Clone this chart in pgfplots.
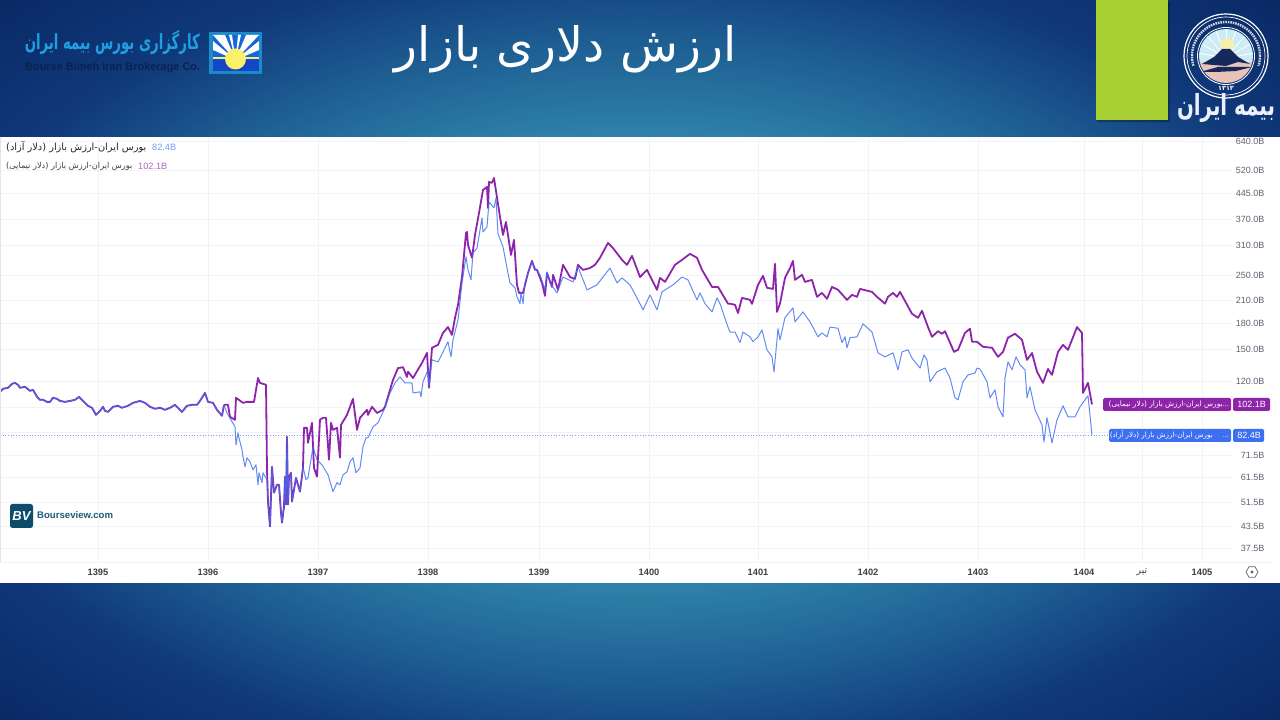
\documentclass[border=0pt]{standalone}
\usepackage{fontspec}
\usepackage{pgfplots}
\pgfplotsset{compat=1.18}
\usepackage{pgfplotstable}
\usetikzlibrary{shapes.geometric}
\setmainfont{Liberation Sans}
\newfontfamily\arabicfont[Script=Arabic]{DejaVu Sans}
\TeXXeTstate=1
\definecolor{purp}{HTML}{8E24AA}
\definecolor{blu}{HTML}{3D6FF0}
\definecolor{dotc}{HTML}{7F97F0}
\definecolor{gridc}{HTML}{F2F3F9}
\definecolor{tickc}{HTML}{5C6270}
\definecolor{c0}{HTML}{3288B0}
\definecolor{c1}{HTML}{2D80A8}
\definecolor{c2}{HTML}{1E5F93}
\definecolor{c3}{HTML}{10397A}
\definecolor{c4}{HTML}{0A2A66}
\definecolor{bvc}{HTML}{0D4C6B}
\definecolor{lgA}{HTML}{1C8AC9}
\definecolor{lgB}{HTML}{1666D8}
\definecolor{lgC}{HTML}{1446C8}
\definecolor{lgD}{HTML}{F6EC78}
\definecolor{lgE}{HTML}{FBF06A}
\definecolor{grn}{HTML}{A9D133}
\definecolor{skyc}{HTML}{CDEBF4}
\definecolor{pnk}{HTML}{E8C4B8}
\definecolor{sunc}{HTML}{F5F0B0}
\definecolor{mtn}{HTML}{16295C}
\pgfdeclareradialshading{bgshade}{\pgfpoint{0bp}{0bp}}{
 color(0bp)=(c0); color(16bp)=(c1); color(22bp)=(c2); color(28bp)=(c3); color(35bp)=(c4); color(50bp)=(c4)}

\pgfplotstableread{
x v
0 111.4
3 113.8
8 114.6
12 117.8
15 118.6
18 117.0
20 114.6
25 115.4
30 112.2
33 113.0
37 107.6
40 105.4
43 105.4
47 103.9
50 103.9
53 106.9
57 106.1
60 104.6
65 103.9
70 104.6
75 105.4
79 107.6
83 104.6
88 101.1
92 99.7
96 94.9
100 97.6
103 100.4
105 97.6
108 96.9
113 100.4
118 101.1
122 99.7
128 101.1
133 103.2
140 104.6
145 103.2
150 100.4
155 99.0
160 99.7
165 98.3
170 99.7
175 101.8
178 99.7
182 96.9
187 101.1
192 101.8
197 101.8
200 104.6
205 110.6
208 103.9
213 103.2
217 98.3
222 94.3
224 101.8
}\shared

\pgfplotstableread{
x v
224 101.8
227 96.2
235 87.3
236 77.0
238 83.7
239 80.9
242 74.4
243 70.9
245 66.1
247 70.4
250 68.4
253 64.7
256 67.0
258 58.3
259 63.4
262 59.2
263 63.4
267 60.4
268 51.5
270 43.6
272 66.1
274 55.2
277 58.3
279 58.3
281 48.0
282 44.8
284 50.1
285 61.7
286 50.8
287 81.4
288 50.8
289 61.7
291 63.4
292 51.9
296 61.2
300 55.6
303 66.1
306 60.4
308 61.2
313 76.0
317 69.4
322 67.0
328 62.5
333 55.6
337 59.2
340 58.3
343 62.5
347 63.8
350 68.4
353 70.4
356 63.4
360 65.6
363 76.0
366 80.9
368 80.9
373 87.3
378 89.8
385 99.7
390 110.6
395 118.6
400 123.7
405 118.6
412 118.6
413 110.6
420 111.4
421 107.6
423 119.5
428 129.9
429 115.4
432 139.2
438 137.3
443 147.2
448 157.9
451 142.2
453 160.1
458 184
462 237.9
466 285.4
468 260.7
471 243.1
473 293.5
477 303.4
482 374.5
483 339.6
487 351.6
489 418.5
494 401.5
496 430.5
498 335
503 306
508 254.9
510 238
515 230
517 216
520 206
521 223.6
523 206
525 238
528 255
532 275.6
535 264
540 251.8
545 226.8
547 257
550 238
557 222
563 248
573 239.7
578 266
587 226.8
597 234.8
603 248
610 264
617 238
622 246.5
630 234.8
638 211.5
643 197.3
650 219
657 197.3
662 223.6
673 234.8
682 248
688 243.1
697 211.5
700 222
705 206
712 194.5
717 214.5
720 206
728 175
730 169
735 169
740 157
743 169
750 163.5
753 158
758 163.5
762 171.6
767 149.3
772 142.2
774 128
778 173
780 160.1
785 187
793 200
795 181.5
803 194.5
810 181.5
818 163.5
822 168
827 163.5
830 175
838 173.5
842 157
845 163.5
847 151.5
850 162.5
857 163.5
863 179
872 169
878 146.2
885 142.2
893 146.2
898 129.9
902 147.2
908 149.3
912 141
920 131.5
924 144.2
927 139.2
930 119.5
937 128.2
945 131.5
950 122.7
955 106.9
958 105.4
963 119.5
968 125.4
975 127
977 131.5
980 130.7
987 119.5
990 106.9
995 113
998 100.4
1003 93.6
1005 122.7
1008 137.3
1012 129.9
1016 142.2
1020 134.5
1025 129.9
1027 106.9
1030 115.4
1035 98.3
1042 88.5
1044 78.7
1047 93
1052 78.1
1057 91.7
1063 101.1
1068 93.6
1075 93.6
1080 100.4
1088 108.4
1092 82.4
}\free

\pgfplotstableread{
x v
224 101.8
228 101.8
230 93.6
235 91.7
236 106.9
243 103.2
247 103.9
254 103.9
258 122.7
260 118.6
266 117.0
267 64.7
268 51.9
270 43.6
272 66.1
274 55.2
277 58.3
279 58.3
281 48.0
282 44.8
284 50.1
285 61.7
286 50.8
287 81.4
288 50.8
289 61.7
291 63.4
292 51.9
296 61.2
300 55.6
303 65.6
304 86.7
307 86.7
308 78.1
312 89.8
314 65.6
317 61.7
320 91.7
323 93
326 93
329 69.4
331 89.8
333 85.5
337 86.7
340 70.4
341 88.5
347 94.9
353 106.1
357 85.5
360 93
367 98.3
368 94.9
372 100.4
377 96.2
383 98.3
385 100.4
393 121.1
398 131.5
403 132.3
407 123.6
408 128.2
413 122.7
422 136.4
427 146.2
429 114.6
432 151.5
438 154.6
443 168
448 175
452 165.7
455 186.6
458 204.3
462 248
466 337
467 339.6
468 310.3
472 283.5
475 332.6
479 387.7
483 455
487 464.7
488 401.5
489 481
492 478
494 494.5
500 377
503 332.6
506 364
511 289.4
514 321.2
517 234.8
519 222
523 222
528 255
532 277.5
535 260.7
537 260.7
542 238
545 217.5
547 255
552 231.5
553 251.8
558 226.8
563 270
570 248
575 244.8
578 270
583 260.7
590 264
595 270
600 283.5
608 314.5
613 303.4
622 279.5
627 270
632 287.4
640 248
647 260.7
657 226.8
660 246.5
665 239.7
675 270
682 279.5
690 291.5
697 283.5
702 260.7
712 231.5
718 231.5
728 206
730 206
735 204.3
738 193
742 214.5
750 211.5
752 205.7
758 234.8
763 250
767 230
773 228.3
775 272
777 194.5
780 206
785 246.5
790 264
793 277.5
795 243.1
802 251.8
805 239.7
812 243.1
817 216
822 222
827 213
832 231.5
838 226.8
847 211.5
852 219
857 216
860 228.3
872 223.6
877 216
885 206
888 216
893 222
897 216
900 223.6
912 192
918 186.6
922 196
928 175
932 163.5
938 170
942 167
945 170
954 147.2
958 149.3
965 168
970 173
972 158
977 158
983 152.5
992 151.5
998 142.2
1003 147.2
1008 162.5
1015 167
1022 160.1
1027 139.2
1032 146
1037 128.2
1043 118.6
1048 130.7
1052 125.4
1058 147.2
1063 154.6
1068 149.3
1077 175
1082 168
1083 110.6
1088 118.6
1092 102.1
}\nima

\begin{document}
\begin{tikzpicture}
\useasboundingbox (0pt,0pt) rectangle (1280pt,720pt);
\begin{scope}[x=1pt,y=-1pt,shift={(0pt,720pt)}]
  \path[shading=bgshade] (0,0) rectangle (1280,720);
  \fill[white] (0,137) rectangle (1280,583);
\end{scope}

\begin{axis}[
  at={(0pt,158pt)}, anchor=south west,
  scale only axis, width=1232pt, height=425pt,
  ymode=log, log basis y=10,
  xmin=0, xmax=1232, ymin=34.05, ymax=658,
  axis line style={draw=none},
  tick style={draw=none},
  major tick length=0pt,
  grid=major,
  major grid style={gridc, line width=0.8pt},
  xtick={98,208,318,428,539,649,758,868,978,1084,1142,1202},
  xticklabels={\textbf{1395},\textbf{1396},\textbf{1397},\textbf{1398},\textbf{1399},\textbf{1400},\textbf{1401},\textbf{1402},\textbf{1403},\textbf{1404},{\arabicfont\beginR تیر\endR},\textbf{1405}},
  xticklabel style={font=\fontsize{9.3}{10}\selectfont, text=black!75, yshift=-3pt},
  ytick={640,520,445,370,310,250,210,180,150,120,100,84,71.5,61.5,51.5,43.5,37.5},
  yticklabels={640.0B,520.0B,445.0B,370.0B,310.0B,250.0B,210.0B,180.0B,150.0B,120.0B,{},{},71.5B,61.5B,51.5B,43.5B,37.5B},
  yticklabel pos=right,
  yticklabel style={font=\fontsize{9}{10}\selectfont, text=tickc, anchor=east, xshift=36pt},
  clip=true,
]
\addplot[dotc, dotted, line width=0.7pt, forget plot] coordinates {(0,82.4) (1109,82.4)};
\addplot[purp, line width=1.8pt, line join=round] table[x=x,y=v] {\shared};
\addplot[purp, line width=1.8pt, line join=round] table[x=x,y=v] {\nima};
\addplot[blu, opacity=0.8, line width=1pt, line join=round] table[x=x,y=v] {\shared};
\addplot[blu, opacity=0.8, line width=1pt, line join=round] table[x=x,y=v] {\free};
\end{axis}

\begin{scope}[x=1pt,y=-1pt,shift={(0pt,720pt)}]
  % separator under the plot
  \draw[gridc!80!black!20, line width=0.8pt] (0,562) -- (1273,562);
  \draw[gridc!70!black!30, line width=0.6pt] (0,137) -- (0,562);
  % settings icon
  \node[draw=tickc, regular polygon, regular polygon sides=6, minimum size=12pt, inner sep=0pt, line width=0.7pt] at (1252,572) {};
  \fill[tickc] (1252,572) circle (1.6pt);
  % price tags
  \fill[purp, rounded corners=1.5pt] (1103,398) rectangle (1231,411);
  \fill[purp, rounded corners=1.5pt] (1233,398) rectangle (1270,411);
  \fill[blu, rounded corners=1.5pt] (1109,429) rectangle (1231,442);
  \fill[blu, rounded corners=1.5pt] (1233,429) rectangle (1264,442);
  \node[anchor=east, text=white, inner sep=0pt, font=\fontsize{7.4}{8}\selectfont] at (1229,404.5) {{\arabicfont\beginR بورس ایران-ارزش بازار (دلار نیمایی)\endR}...};
  \node[anchor=east, text=white, inner sep=0pt, font=\fontsize{7.2}{8}\selectfont] at (1229,435.5) {{\arabicfont\beginR بورس ایران-ارزش بازار (دلار آزاد)\endR}\hspace{10pt}...};
  \node[text=white, inner sep=0pt, font=\fontsize{9}{10}\selectfont] at (1251.5,404.5) {102.1B};
  \node[text=white, inner sep=0pt, font=\fontsize{9}{10}\selectfont] at (1249,435.5) {82.4B};
  % legend
  \node[anchor=west, inner sep=0pt, text=black!85, font=\fontsize{9.8}{10}\selectfont] at (6,147) {\arabicfont\beginR بورس ایران-ارزش بازار (دلار آزاد)\endR};
  \node[anchor=west, inner sep=0pt, text=blu!70!white, font=\fontsize{9.2}{10}\selectfont] at (152,147) {82.4B};
  \node[anchor=west, inner sep=0pt, text=black!75, font=\fontsize{8.2}{9}\selectfont] at (6,166) {\arabicfont\beginR بورس ایران-ارزش بازار (دلار نیمایی)\endR};
  \node[anchor=west, inner sep=0pt, text=purp!70!white, font=\fontsize{9.2}{10}\selectfont] at (138,166) {102.1B};
  % Bourseview badge
  \fill[bvc, rounded corners=2.5pt] (10,504) rectangle (33,528);
  \node[text=white, inner sep=0pt, font=\fontsize{13}{14}\selectfont\bfseries\itshape] at (21.5,516) {BV};
  \node[anchor=west, inner sep=0pt, text={rgb,255:red,31;green,90;blue,120}, font=\fontsize{9.6}{10}\selectfont\bfseries] at (37,515) {Bourseview.com};
  % title
  \node[text=white, inner sep=0pt] at (566,49) {\resizebox{342pt}{!}{\arabicfont\beginR ارزش دلاری بازار\endR}};
  % left logo
  \node[anchor=east, inner sep=0pt, text={rgb,255:red,31;green,159;blue,224}] at (200,43) {\resizebox{175pt}{19pt}{\arabicfont\bfseries\beginR کارگزاری بورس بیمه ایران\endR}};
  \node[anchor=west, inner sep=0pt, text={rgb,255:red,10;green,34;blue,80}] at (25,67.5) {\resizebox{175pt}{8pt}{\bfseries Bourse Bimeh Iran Brokerage Co.}};
  \fill[lgA] (209,32) rectangle (262,74);
  \fill[lgB] (213,35) rectangle (259,58);
  \fill[lgC] (213,58) rectangle (259,71);
  \begin{scope}
    \clip (213,35) rectangle (259,56.5);
    \foreach \a/\b in {213/225,229/232,238/241,246/259}{\fill[white] (\a,35) -- (\b,35) -- (235.5,60) -- cycle;}
    \fill[white] (213,41) -- (213,50) -- (235.5,60) -- cycle;
    \fill[white] (259,41) -- (259,50) -- (235.5,60) -- cycle;
  \end{scope}
  \fill[lgD] (213,57) rectangle (259,59);
  \fill[lgE] (235.5,59) circle (10.5pt);
  % green box
  \fill[black, opacity=0.25] (1097,2) rectangle (1170,122);
  \fill[grn] (1096,0) rectangle (1168,120);
  % right logo
  \draw[white, line width=1.2pt] (1226,56) circle (42pt);
  \draw[white, line width=0.7pt] (1226,56) circle (39pt);
  \draw[white, line width=0.8pt] (1226,56) circle (28.5pt);
  \begin{scope}
    \clip (1226,56) circle (27pt);
    \fill[skyc] (1196,26) rectangle (1256,62);
    \fill[pnk] (1196,62) rectangle (1256,86);
    \foreach \a in {10,30,...,170}{\draw[white, line width=0.8pt] (1226,58) -- ++({32*cos(\a)},{-32*sin(\a)});}
    \fill[sunc] (1227,45) circle (7pt);
    \fill[mtn] (1202,64) -- (1214,57) -- (1222,49) -- (1230,49) -- (1238,57) -- (1250,64) -- (1238,62) -- (1226,66) -- cycle;
    \fill[mtn] (1200,72) -- (1218,67) -- (1252,67) -- (1236,71) -- (1216,72) -- cycle;
  \end{scope}
  \begin{scope}
    \clip (1170,0) rectangle (1280,66);
    \draw[white, opacity=0.8, dash pattern=on 1.6pt off 0.9pt, line width=2.4pt] (1226,56) circle (34pt);
  \end{scope}
  \node[text=white, inner sep=0pt, font=\fontsize{6.5}{7}\selectfont\bfseries] at (1226,88.5) {\arabicfont ۱۳۱۳};
  \node[text={rgb,255:red,235;green,240;blue,250}, inner sep=0pt] at (1226,108.5) {\resizebox{98pt}{22pt}{\arabicfont\bfseries\beginR بیمه ایران\endR}};
\end{scope}
\end{tikzpicture}
\end{document}
